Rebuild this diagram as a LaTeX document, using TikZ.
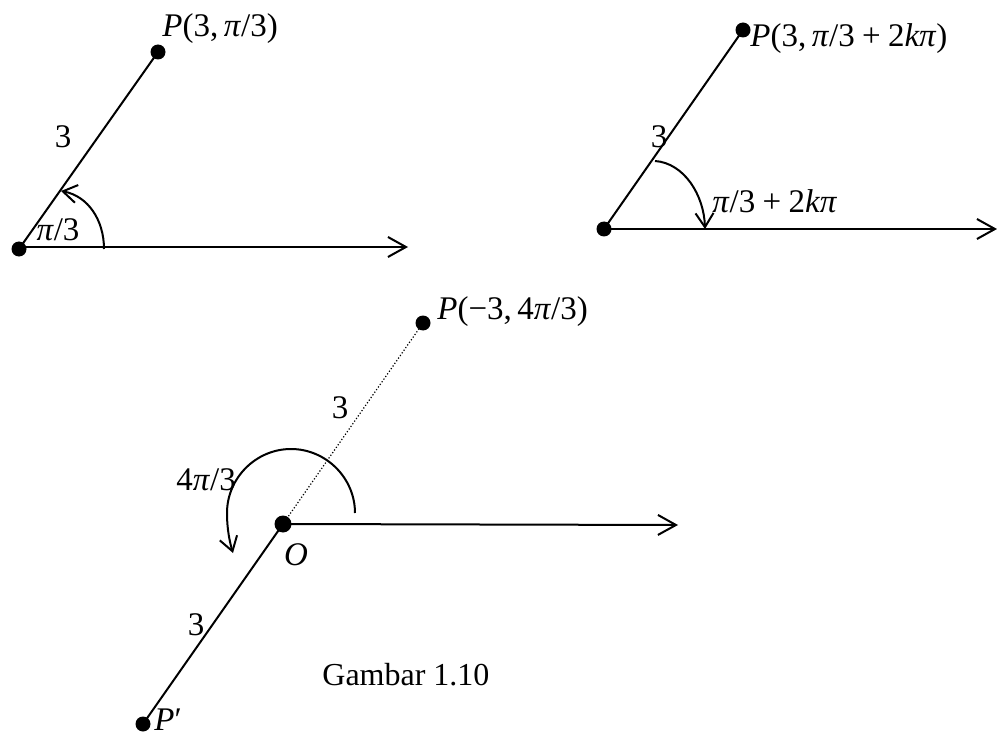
\documentclass[tikz,border=0pt]{standalone}
\usepackage{fontspec}
\setmainfont{Liberation Serif}
\usetikzlibrary{arrows.meta}
\begin{document}
\begin{tikzpicture}[x=0.5pt,y=-0.5pt,
  dot/.style={circle,fill=black,inner sep=0pt,minimum size=7.5pt},
  lbl/.style={inner sep=0pt,font=\fontsize{16.5}{19}\selectfont},
  captext/.style={inner sep=0pt,font=\fontsize{16}{19}\selectfont},
  ray/.style={line width=1pt,-{Straight Barb[length=9pt,width=10pt,line width=1pt]}},
  seg/.style={line width=1pt},
  dotseg/.style={line width=0.6pt,dash pattern=on 0.6pt off 1pt},
  turn/.style={line width=1pt,-{Straight Barb[length=7pt,width=9pt,line width=1pt]}},
]
\useasboundingbox (0,0) rectangle (997,738);

% ---------- figure 1 ----------
\node[dot] (O1) at (19,249) {};
\node[dot] (P1) at (158,52) {};
\coordinate (X1) at (408,247);
\draw[seg] (O1.center) -- (P1.center);
\draw[ray] (O1.center |- X1) -- (X1);
\coordinate (a1s) at (104,249);
\coordinate (a1e) at (61,191);
\draw[turn] (a1s) .. controls (104,220) and (88,196) .. (a1e);
\node[lbl,anchor=base west] (L1) at (162,37) {\textit{P}(3,\,\textit{π}/3)};
\node[lbl,anchor=base] (r1) at (63,148) {3};
\node[lbl,anchor=base] (t1) at (58,241) {\textit{π}/3};

% ---------- figure 2 ----------
\node[dot] (O2) at (604,229) {};
\node[dot] (P2) at (743,30) {};
\coordinate (X2) at (997,229);
\draw[seg] (O2.center) -- (P2.center);
\draw[ray] (O2.center) -- (X2);
\coordinate (a2s) at (655,161);
\coordinate (a2e) at (705,229);
\draw[turn] (a2s) .. controls (684,163) and (704,195) .. (a2e);
\node[lbl,anchor=base west] (L2) at (750,47) {\textit{P}(3,\,\textit{π}/3\:+\:2\textit{kπ})};
\node[lbl,anchor=base] (r2) at (659,148) {3};
\node[lbl,anchor=base west] (t2) at (712,213) {\textit{π}/3\:+\:2\textit{kπ}};

% ---------- figure 3 ----------
\node[dot,minimum size=8.5pt] (O3) at (283,524) {};
\node[dot] (P3) at (423,323) {};
\node[dot] (Pp) at (143,724) {};
\coordinate (X3) at (678,525);
\draw[dotseg] (O3.center) -- (P3.center);
\draw[seg] (O3.center) -- (Pp.center);
\draw[ray] (O3.center) -- (X3);
\coordinate (a3s) at (355,513);
\coordinate (a3t) at (291,449);
\coordinate (a3l) at (227,513);
\coordinate (a3e) at (233,553);
\draw[turn] (a3s) .. controls (355,478) and (326,449) .. (a3t)
  .. controls (256,449) and (227,478) .. (a3l)
  .. controls (227,530) and (230,543) .. (a3e);
\node[lbl,anchor=base west] (L3) at (437,320) {\textit{P}(−3,\,4\textit{π}/3)};
\node[lbl,anchor=base] (r3) at (340,418) {3};
\node[lbl,anchor=base west] (t3) at (176,490) {4\textit{π}/3};
\node[lbl,anchor=base] (Ol) at (296,565) {\textit{O}};
\node[lbl,anchor=base] (r4) at (196,635) {3};
\node[lbl,anchor=base west] (Lp) at (154,730) {\textit{P}′};
\node[captext,anchor=base west] (capt) at (322,685) {Gambar 1.10};
\end{tikzpicture}
\end{document}
